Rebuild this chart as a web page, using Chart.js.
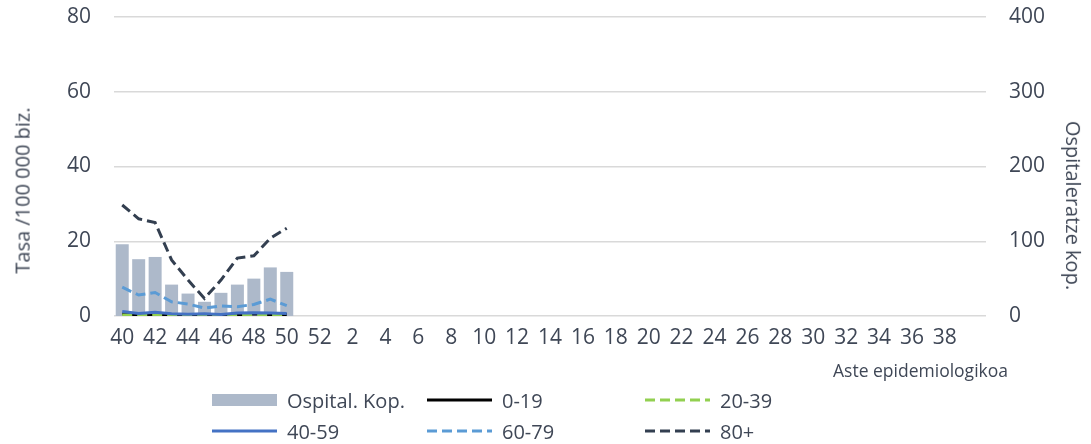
<!DOCTYPE html>
<html>
<head>
<meta charset="utf-8">
<script src="https://cdn.jsdelivr.net/npm/chart.js@4/dist/chart.umd.min.js"></script>
<style>
  html, body { margin: 0; padding: 0; background: #fff; }
  #wrap { position: relative; width: 1091px; height: 444px; font-family: "Open Sans", sans-serif; color: #3F4756; }
  #wrap canvas { position: absolute; left: 0; top: 0; }
  .ytitle { position: absolute; font-size: 20px; white-space: nowrap; transform-origin: center center; }
  #xtitle { position: absolute; font-size: 17.5px; white-space: nowrap; right: 83px; top: 358px; }
  #legend { position: absolute; left: 0; top: 0; width: 100%; height: 100%; pointer-events: none; }
  .lg { position: absolute; display: flex; align-items: center; height: 30px; font-size: 20px; white-space: nowrap; }
  .lg svg { margin-right: 10px; }
</style>
</head>
<body>
<div id="wrap">
  <canvas id="c" width="1091" height="444"></canvas>
  <div class="ytitle" id="ytl">Tasa /100 000 biz.</div>
  <div class="ytitle" id="ytr">Ospitaleratze kop.</div>
  <div id="xtitle">Aste epidemiologikoa</div>
  <div id="legend"></div>
</div>
<script>
// ---- data ----
const weeks = ['40','41','42','43','44','45','46','47','48','49','50','51','52',
  '1','2','3','4','5','6','7','8','9','10','11','12','13','14','15','16','17','18','19','20',
  '21','22','23','24','25','26','27','28','29','30','31','32','33','34','35','36','37','38','39',''];
const hospital = [96, 76, 79, 42, 30, 19, 31, 42, 50, 65, 59];
const age0_19  = [0.6, 0.3, 0.5, 0.2, 0.1, 0.2, 0.1, 0.3, 0.6, 0.3, 0.4];
const age20_39 = [0.3, 0.2, 0.4, 0.1, 0.0, 0.1, 0.0, 0.1, 0.2, 0.1, 0.3];
const age40_59 = [1.2, 0.7, 1.0, 0.6, 0.5, 0.6, 0.4, 0.8, 0.9, 0.8, 0.7];
const age60_79 = [7.7, 5.6, 6.3, 3.8, 3.2, 2.1, 2.7, 2.5, 3.1, 4.5, 2.8];
const age80    = [29.7, 26.0, 25.0, 15.0, 9.6, 4.7, 9.6, 15.5, 16.1, 20.8, 23.5];
const leftTicks = [0, 20, 40, 60, 80];
const rightTicks = [0, 100, 200, 300, 400];

const TXT = '#3F4756';
const FONT = '"Open Sans", sans-serif';

function lineDs(label, data, color, dash, order) {
  return { type: 'line', label, data, yAxisID: 'y', borderColor: color, backgroundColor: color,
    borderWidth: 3, borderDash: dash, pointRadius: 0, tension: 0, order, _dash: dash };
}

const datasets = [
  { type: 'bar', label: 'Ospital. Kop.', data: hospital, yAxisID: 'y1', backgroundColor: '#ADB9CA',
    barPercentage: 0.79, categoryPercentage: 1.0, order: 10 },
  lineDs('0-19', age0_19, '#000000', [], 5),
  lineDs('20-39', age20_39, '#92D050', [10, 5], 4),
  lineDs('40-59', age40_59, '#4472C4', [], 3),
  lineDs('60-79', age60_79, '#5B9BD5', [10, 5], 2),
  lineDs('80+', age80, '#333F50', [10, 5], 1)
];

const chart = new Chart(document.getElementById('c'), {
  data: { labels: weeks, datasets },
  options: {
    responsive: false,
    animation: false,
    devicePixelRatio: 1,
    layout: { padding: { top: 17, left: 0, right: 0, bottom: 0 } },
    plugins: { legend: { display: false }, tooltip: { enabled: false } },
    scales: {
      x: {
        grid: { display: false, drawTicks: false },
        border: { display: false },
        ticks: {
          autoSkip: false, maxRotation: 0, minRotation: 0, padding: 9,
          color: TXT, font: { family: FONT, size: 21 },
          callback: (v, i) => (i % 2 === 0 ? weeks[i] : '')
        },
        afterFit: s => { s.height = 128; s.paddingLeft = 0; s.paddingRight = 0; }
      },
      y: {
        position: 'left', min: 0, max: 80,
        afterBuildTicks: s => { s.ticks = leftTicks.map(v => ({ value: v })); },
        grid: { color: '#D9D9D9', lineWidth: 1.5, drawTicks: false },
        border: { display: false },
        ticks: { padding: 23, color: TXT, font: { family: FONT, size: 21 } },
        afterFit: s => { s.width = 114; s.paddingTop = 0; s.paddingBottom = 0; }
      },
      y1: {
        position: 'right', min: 0, max: 400,
        afterBuildTicks: s => { s.ticks = rightTicks.map(v => ({ value: v })); },
        grid: { display: false, drawTicks: false },
        border: { display: false },
        ticks: { padding: 23, color: TXT, font: { family: FONT, size: 21 } },
        afterFit: s => { s.width = 105; s.paddingTop = 0; s.paddingBottom = 0; }
      }
    }
  }
});

// axis titles (rotated)
const ytl = document.getElementById('ytl');
const ytr = document.getElementById('ytr');
function placeRot(el, cx, cy, deg) {
  const w = el.offsetWidth, h = el.offsetHeight;
  el.style.left = (cx - w / 2) + 'px';
  el.style.top = (cy - h / 2) + 'px';
  el.style.transform = 'rotate(' + deg + 'deg)';
}
placeRot(ytl, 22, 190, -90);
placeRot(ytr, 1073, 205, 90);

// HTML legend in a 3-column grid built from the chart datasets
const legend = document.getElementById('legend');
const cols = [212, 427, 645];
const rows = [385, 416];
chart.data.datasets.forEach((ds, i) => {
  const item = document.createElement('div');
  item.className = 'lg';
  item.style.left = cols[i % 3] + 'px';
  item.style.top = rows[Math.floor(i / 3)] + 'px';
  let svg;
  if (ds.type === 'bar') {
    svg = '<svg width="65" height="14"><rect x="0" y="1" width="65" height="12" fill="' + ds.backgroundColor + '"/></svg>';
  } else {
    const dash = ds._dash && ds._dash.length ? ' stroke-dasharray="' + ds._dash.join(',') + '"' : '';
    svg = '<svg width="65" height="14"><line x1="0" y1="7" x2="65" y2="7" stroke="' + ds.borderColor + '" stroke-width="3"' + dash + '/></svg>';
  }
  item.innerHTML = svg + '<span>' + ds.label + '</span>';
  legend.appendChild(item);
});
</script>
</body>
</html>
